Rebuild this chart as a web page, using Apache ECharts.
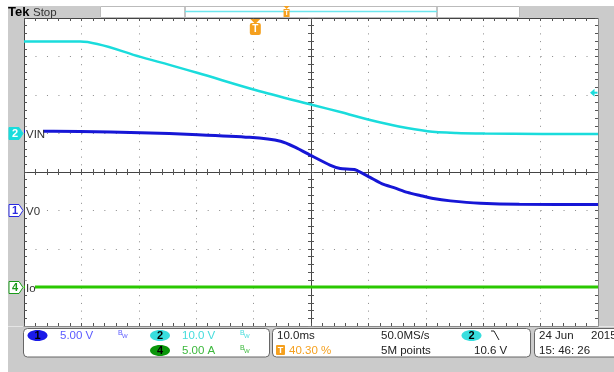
<!DOCTYPE html>
<html>
<head>
<meta charset="utf-8">
<script src="https://cdn.jsdelivr.net/npm/echarts@6/dist/echarts.min.js"></script>
<style>
html, body { margin: 0; padding: 0; background: #fff; }
#scope { width: 614px; height: 372px; }
</style>
</head>
<body>
<div id="scope"></div>
<script>
// Time base: ms relative to the trigger point (10 ms/div, trigger at 40.30 %)
const timeRange = [-40.3, 59.7];

// CH2 - VIN (volts)
const vinTime  = [-40.3, -30.5, -20, -10, 0, 10, 15, 20, 25, 30, 35, 40, 50, 59.7];
const vinVolts = [23.9, 23.9, 19.9, 15.7, 11.3, 7.4, 5.5, 3.5, 1.8, 0.6, 0.15, 0.0, -0.1, -0.1];

// CH1 - V0 (volts)
const voTime  = [-40.3, -30.5, -20, -10, -1, 4.4, 7, 9.8, 13, 14.8, 17.4, 20, 22, 24.4, 26.5, 28.7, 31, 34, 39.2, 46, 59.7];
const voVolts = [10.3, 10.25, 10.1, 9.85, 9.5, 9.0, 8.2, 7.1, 5.9, 5.45, 5.3, 4.3, 3.5, 2.9, 2.35, 1.95, 1.55, 1.25, 0.95, 0.8, 0.78];

// CH4 - Io (amps)
const ioTime = [-40.3, -20, 0, 20, 40, 59.7];
const ioAmps = [0.05, 0.05, 0.05, 0.05, 0.05, 0.05];

// Vertical settings: units per division, ground position in divisions from centre
const ch1 = { scale: 5,  ground: -1 };
const ch2 = { scale: 10, ground: 1 };
const ch4 = { scale: 5,  ground: -3 };
const triggerLevel = 10.6;

// Readouts
const ch1Readout = '5.00 V';
const ch2Readout = '10.0 V';
const ch4Readout = '5.00 A';
const timeReadout = '10.0ms';
const triggerPos = '40.30 %';
const sampleRate = '50.0MS/s';
const recordLength = '5M points';
const triggerReadout = '10.6 V';
const dateText = '24 Jun';
const yearText = '2015';
const clockText = '15: 46: 26';

const C_CYAN = '#1adcdc';
const C_BLUE = '#1616d6';
const C_GREEN = '#2ac800';
const C_ORANGE = '#f5a01e';
const C_PANEL = '#cbcbcb';
const C_FRAME = '#444';

const zip = (t, v) => t.map((x, i) => [x, v[i]]);
const chRange = ch => ({ min: (-4 - ch.ground) * ch.scale, max: (4 - ch.ground) * ch.scale });

function gridAxis(kind, opts) {
  const base = {
    type: 'value',
    min: kind === 'x' ? -5 : -4,
    max: kind === 'x' ? 5 : 4,
    interval: 1,
    silent: true,
    axisLabel: { show: false },
    axisLine: { show: true, onZero: false, lineStyle: { color: C_FRAME, width: 1 } },
    axisTick: { show: true, inside: true, length: 3, lineStyle: { color: '#555' } },
    minorTick: { show: true, splitNumber: 5, length: 3, lineStyle: { color: '#555' } },
    splitLine: { show: false },
    z: 1
  };
  if (opts.position) base.position = opts.position;
  if (opts.onZero) { base.axisLine.onZero = true; base.axisLine.onZeroAxisIndex = 0; }
  if (opts.inside === false) base.axisTick.inside = false;
  if (opts.dots) {
    base.splitLine = { show: true, lineStyle: { color: '#8a8a8a', width: 1, type: opts.dots } };
  }
  return base;
}

const chart = echarts.init(document.getElementById('scope'), null, { renderer: 'canvas' });

const option = {
  animation: false,
  backgroundColor: '#ffffff',
  grid: { left: 24, top: 18, right: 16, bottom: 46, show: true, backgroundColor: '#ffffff', borderWidth: 0 },
  xAxis: [
    gridAxis('x', { position: 'bottom', dots: [1, 6.7] }),
    gridAxis('x', { position: 'top' }),
    gridAxis('x', { onZero: true, inside: false }),
    gridAxis('x', { onZero: true }),
    { type: 'value', show: false, min: timeRange[0], max: timeRange[1] }
  ],
  yAxis: [
    gridAxis('y', { position: 'left', dots: [1, 10.48] }),
    gridAxis('y', { position: 'right' }),
    gridAxis('y', { onZero: true, inside: false }),
    gridAxis('y', { onZero: true }),
    Object.assign({ type: 'value', show: false }, chRange(ch1)),
    Object.assign({ type: 'value', show: false }, chRange(ch2)),
    Object.assign({ type: 'value', show: false }, chRange(ch4))
  ],
  series: [
    { name: 'Io', type: 'line', xAxisIndex: 4, yAxisIndex: 6, data: zip(ioTime, ioAmps),
      showSymbol: false, lineStyle: { color: C_GREEN, width: 3 }, z: 3 },
    { name: 'VIN', type: 'line', xAxisIndex: 4, yAxisIndex: 5, data: zip(vinTime, vinVolts),
      showSymbol: false, smooth: 0.3, lineStyle: { color: C_CYAN, width: 2.5 }, z: 3 },
    { name: 'V0', type: 'line', xAxisIndex: 4, yAxisIndex: 4, data: zip(voTime, voVolts),
      showSymbol: false, smooth: 0.2, lineStyle: { color: C_BLUE, width: 3 }, z: 4 }
  ]
};
chart.setOption(option);

// ---- screen furniture ----
const FONT = '11.5px "Liberation Sans", Arial, sans-serif';
const txt = (x, y, text, fill, extra, z) => ({
  type: 'text', x: x, y: y, silent: true, z: z || 20,
  style: Object.assign({ text: text, fill: fill, font: FONT, verticalAlign: 'middle', textVerticalAlign: 'middle' }, extra || {})
});
const rect = (x, y, w, h, fill, stroke, r) => ({
  type: 'rect', silent: true, z: 20, shape: { x: x, y: y, width: w, height: h, r: r || 0 },
  style: { fill: fill, stroke: stroke || null, lineWidth: 1 }
});
const badge = (cx, cy, fill, label) => [
  { type: 'ellipse', silent: true, z: 21, shape: { cx: cx, cy: cy, rx: 10, ry: 5.5 }, style: { fill: fill } },
  txt(cx, cy + 0.5, label, '#000', { align: 'center', textAlign: 'center', font: 'bold 11px "Liberation Sans", Arial, sans-serif' }, 22)
];
const bw = (x, y, fill) => [
  txt(x, y - 2, 'B', fill, { font: '7px "Liberation Sans", Arial, sans-serif' }, 22),
  txt(x + 4, y + 1, 'W', fill, { font: '6px "Liberation Sans", Arial, sans-serif' }, 22)
];
const chanMarker = (y, label, fill, stroke, textFill, name, labelWidth) => [
  { type: 'polygon', silent: true, z: 30,
    shape: { points: [[9, y - 6], [19, y - 6], [23, y], [19, y + 6], [9, y + 6]] },
    style: { fill: fill, stroke: stroke, lineWidth: 1 } },
  txt(15, y + 0.5, label, textFill, { align: 'center', textAlign: 'center', font: 'bold 11px "Liberation Sans", Arial, sans-serif' }, 31),
  rect(25, y - 7, labelWidth, 14, '#fff'),
  txt(26, y + 1, name, '#333', { font: '11.5px "Liberation Sans", Arial, sans-serif' }, 31)
];

const yCh1 = chart.convertToPixel({ yAxisIndex: 4 }, 0);
const yCh2 = chart.convertToPixel({ yAxisIndex: 5 }, 0);
const yCh4 = chart.convertToPixel({ yAxisIndex: 6 }, 0);
const yTrig = chart.convertToPixel({ yAxisIndex: 5 }, triggerLevel);
const xTrig = chart.convertToPixel({ xAxisIndex: 4 }, 0);

// record-view bracket in the status bar
const recL = 185, recR = 437;
const xRecTrig = recL + (0 - timeRange[0]) / (timeRange[1] - timeRange[0]) * (recR - recL);

const gfx = [
  // bezel
  rect(8, 6, 92, 12, C_PANEL),
  rect(520, 6, 94, 12, C_PANEL),
  rect(8, 18, 16, 308, C_PANEL),
  rect(598.5, 18, 16, 308, C_PANEL),
  rect(8, 326.5, 606, 46, C_PANEL),
  rect(100.5, 6.5, 419, 11, '#fff', '#bbb'),
  txt(8, 12.5, 'Tek', '#000', { font: 'bold 13px "Liberation Sans", Arial, sans-serif' }),
  txt(33, 12.5, 'Stop', '#333', { font: '11.5px "Liberation Sans", Arial, sans-serif' }),
  { type: 'line', silent: true, z: 21, shape: { x1: recL, y1: 7, x2: recL, y2: 17 }, style: { stroke: '#888', lineWidth: 1 } },
  { type: 'line', silent: true, z: 21, shape: { x1: recR, y1: 7, x2: recR, y2: 17 }, style: { stroke: '#888', lineWidth: 1 } },
  { type: 'line', silent: true, z: 21, shape: { x1: recL, y1: 11.5, x2: recR, y2: 11.5 }, style: { stroke: '#6ee6ee', lineWidth: 1.5 } },
  { type: 'polygon', silent: true, z: 22, shape: { points: [[xRecTrig - 3, 6], [xRecTrig + 3, 6], [xRecTrig, 9]] }, style: { fill: C_ORANGE } },
  Object.assign(rect(xRecTrig - 3, 9, 6, 8, C_ORANGE), { z: 22 }),
  txt(xRecTrig, 13.5, 'T', '#fff', { align: 'center', textAlign: 'center', font: 'bold 7px "Liberation Sans", Arial, sans-serif' }, 23),

  // trigger position marker
  { type: 'polygon', silent: true, z: 30, shape: { points: [[xTrig - 5, 19], [xTrig + 5, 19], [xTrig, 24]] }, style: { fill: C_ORANGE } },
  Object.assign(rect(xTrig - 5.5, 23, 11, 12, C_ORANGE, null, 2), { z: 30 }),
  txt(xTrig, 29.5, 'T', '#fff', { align: 'center', textAlign: 'center', font: 'bold 10px "Liberation Sans", Arial, sans-serif' }, 31),

  // trigger level marker
  { type: 'polygon', silent: true, z: 30, shape: { points: [[590, yTrig], [594.5, yTrig - 4], [594.5, yTrig + 4]] }, style: { fill: C_CYAN } },
  { type: 'line', silent: true, z: 30, shape: { x1: 594, y1: yTrig, x2: 597.5, y2: yTrig }, style: { stroke: C_CYAN, lineWidth: 2 } }
]
  .concat(chanMarker(yCh2, '2', C_CYAN, C_CYAN, '#fff', 'VIN', 18))
  .concat(chanMarker(yCh1, '1', '#fff', '#2a2ae0', '#2a2ae0', 'V0', 14))
  .concat(chanMarker(yCh4, '4', '#fff', '#1a9a1a', '#1a9a1a', 'Io', 10))
  .concat([
    // readout panels
    rect(23.5, 328.5, 246, 28.5, '#fff', '#666', 4),
    rect(272.5, 328.5, 258, 28.5, '#fff', '#666', 4),
    rect(534.5, 328.5, 90, 28.5, '#fff', '#666', 4)
  ])
  .concat(badge(37.5, 335.5, '#1a1ae8', '1'))
  .concat([txt(60, 335.5, ch1Readout, '#5a5aff', null, 22)])
  .concat(bw(118, 335, '#5a5aff'))
  .concat(badge(160, 335.5, '#38dede', '2'))
  .concat([txt(182, 335.5, ch2Readout, '#44dcdc', null, 22)])
  .concat(bw(240, 335, '#44dcdc'))
  .concat(badge(160, 350.5, '#0a960a', '4'))
  .concat([txt(182, 350.5, ch4Readout, '#3cb83c', null, 22)])
  .concat(bw(240, 350, '#3cb83c'))
  .concat([
    txt(277, 335.5, timeReadout, '#222', null, 22),
    Object.assign(rect(276, 345, 9, 10, C_ORANGE, null, 1), { z: 22 }),
    txt(280.5, 350.5, 'T', '#fff', { align: 'center', textAlign: 'center', font: 'bold 9px "Liberation Sans", Arial, sans-serif' }, 23),
    txt(289, 350.5, triggerPos, C_ORANGE, null, 22),
    txt(381, 335.5, sampleRate, '#222', null, 22),
    txt(381, 350.5, recordLength, '#222', null, 22)
  ])
  .concat(badge(471.5, 335.5, '#38dede', '2'))
  .concat([
    { type: 'polyline', silent: true, z: 22, shape: { points: [[491, 331], [494, 331], [499, 340]] }, style: { stroke: '#222', lineWidth: 1, fill: null } },
    txt(474, 350.5, triggerReadout, '#222', null, 22),
    txt(539, 335.5, dateText, '#222', null, 22),
    txt(591, 335.5, yearText, '#222', null, 22),
    txt(539, 350.5, clockText, '#222', null, 22)
  ]);

chart.setOption({ graphic: { elements: gfx } });
</script>
</body>
</html>
